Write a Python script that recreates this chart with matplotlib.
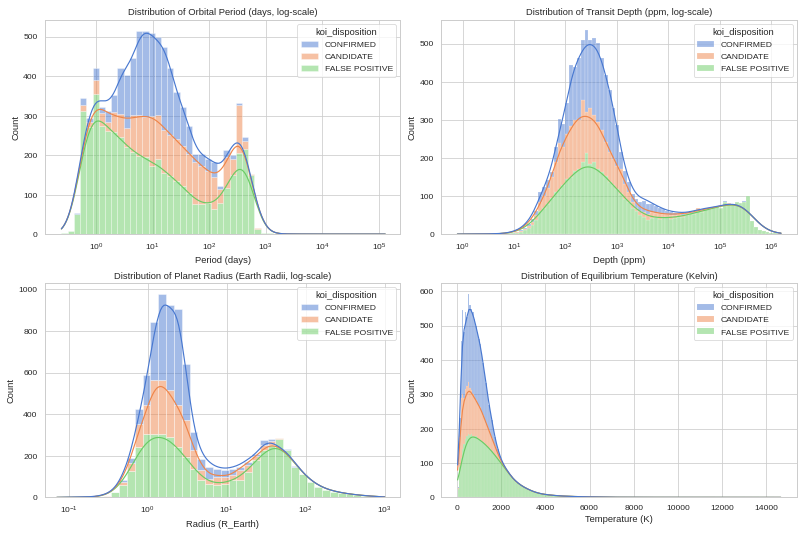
import numpy as np
import matplotlib
matplotlib.use("Agg")
import matplotlib.pyplot as plt
from matplotlib.patches import Patch
from matplotlib.ticker import MultipleLocator
import seaborn as sns

DISPOSITIONS = ["CONFIRMED", "CANDIDATE", "FALSE POSITIVE"]

# --- orbital period, bins in log10(days) ---
period_range = (-0.61, 5.11)
period_confirmed = [0, 0, 1, 17, 8, 30, 14, 27, 42, 115, 133, 144, 214, 218, 210, 199, 212, 170, 119, 98,
                    72, 21, 30, 29, 38, 8, 17, 10, 6, 9, 1, 0, 0, 0, 0, 0, 0, 0, 0, 0,
                    0, 0, 0, 0, 0, 0, 0, 0, 0, 0, 0, 0]
period_candidate = [0, 0, 0, 17, 13, 36, 33, 23, 52, 60, 50, 94, 102, 102, 127, 111, 107, 102, 106, 102,
                    98, 106, 97, 81, 79, 34, 77, 40, 122, 21, 2, 2, 0, 0, 0, 0, 0, 0, 0, 0,
                    0, 0, 0, 0, 0, 0, 0, 0, 0, 0, 0, 0]
period_false_pos = [3, 9, 52, 311, 272, 354, 275, 262, 258, 245, 220, 207, 199, 195, 173, 190, 156, 148, 135, 122,
                    105, 76, 76, 80, 65, 80, 118, 150, 205, 216, 150, 14, 4, 2, 1, 0, 1, 0, 1, 0,
                    0, 0, 1, 0, 0, 0, 0, 0, 0, 0, 0, 1]

# --- transit depth, bins in log10(ppm) ---
depth_range = (-0.10, 6.19)
depth_confirmed = [0, 0, 0, 0, 0, 0, 0, 0, 0, 1, 0, 0, 0, 1, 1, 1, 2, 3, 4, 7,
                   12, 25, 23, 21, 13, 39, 61, 60, 81, 159, 140, 162, 158, 216, 180, 202, 206, 189, 176, 163,
                   132, 106, 43, 33, 26, 22, 22, 24, 31, 28, 20, 20, 15, 14, 8, 8, 5, 4, 2, 2,
                   2, 2, 2, 2, 2, 1, 1, 1, 1, 1, 1, 1, 0, 0, 1, 1, 0, 0, 0, 0,
                   0, 0, 0, 0]
depth_candidate = [0, 0, 0, 0, 0, 0, 0, 0, 0, 0, 0, 0, 0, 0, 0, 1, 1, 2, 5, 8,
                   12, 25, 32, 40, 55, 80, 122, 100, 117, 135, 135, 130, 162, 107, 145, 123, 124, 110, 88, 79,
                   70, 61, 66, 40, 26, 14, 8, 10, 12, 14, 16, 10, 15, 8, 8, 10, 8, 6, 6, 5,
                   3, 3, 6, 4, 2, 2, 1, 1, 1, 1, 1, 1, 1, 1, 0, 0, 0, 0, 0, 0,
                   0, 0, 0, 0]
depth_false_pos = [1, 0, 0, 1, 0, 0, 1, 0, 1, 0, 1, 1, 2, 2, 3, 4, 7, 11, 17, 25,
                   38, 60, 68, 80, 95, 110, 118, 130, 145, 150, 165, 170, 190, 213, 185, 189, 171, 163, 154, 136,
                   128, 119, 106, 92, 84, 70, 62, 50, 45, 38, 42, 45, 40, 44, 46, 40, 42, 46, 44, 50,
                   55, 53, 62, 58, 66, 65, 70, 72, 68, 84, 80, 78, 84, 82, 85, 99, 35, 18, 12, 9,
                   6, 4, 2, 1]

# --- planet radius, bins in log10(R_Earth) ---
radius_range = (-1.15, 3.00)
radius_confirmed = [0, 1, 1, 0, 1, 1, 1, 2, 14, 25, 72, 144, 277, 414, 408, 464, 272, 88, 56, 56,
                    40, 35, 32, 16, 16, 11, 24, 13, 1, 5, 2, 1, 0, 0, 0, 0, 0, 0, 0, 0,
                    0, 0]
radius_candidate = [0, 0, 0, 1, 0, 1, 1, 1, 10, 40, 112, 139, 262, 262, 224, 200, 176, 88, 48, 27,
                    40, 32, 24, 45, 32, 21, 24, 19, 1, 3, 1, 1, 0, 0, 0, 0, 0, 0, 0, 0,
                    0, 0]
radius_false_pos = [1, 0, 1, 1, 2, 2, 4, 24, 62, 125, 243, 304, 304, 304, 291, 243, 195, 139, 83, 64,
                    59, 64, 83, 86, 123, 179, 227, 251, 283, 227, 147, 113, 75, 51, 38, 27, 22, 16, 11, 8,
                    6, 3]

# --- equilibrium temperature, linear bins in K (confirmed/candidate are empty past 46 bins) ---
temp_range = (25, 14667)
temp_confirmed = [2, 55, 165, 245, 190, 225, 200, 258, 242, 236, 238, 228, 214, 206, 196, 183, 167, 151, 129, 116,
                  95, 72, 64, 54, 35, 26, 18, 14, 8, 5, 3, 2, 1, 1, 0, 1, 0, 0, 0, 0,
                  1, 0, 0, 0, 0, 0]
temp_candidate = [3, 85, 175, 160, 135, 145, 147, 150, 136, 126, 120, 116, 105, 105, 96, 95, 87, 80, 71, 65,
                  57, 52, 44, 38, 32, 26, 21, 15, 11, 8, 5, 4, 3, 2, 2, 1, 1, 1, 0, 1,
                  0, 0, 1, 0, 0, 0]
temp_false_pos = [25, 90, 115, 140, 155, 170, 178, 185, 182, 186, 180, 176, 179, 171, 170, 167, 164, 161, 158, 151,
                  148, 144, 140, 134, 129, 124, 117, 112, 107, 100, 95, 90, 84, 78, 72, 66, 60, 55, 50, 46,
                  42, 39, 36, 34, 32, 30, 27, 25, 23, 21, 19, 17, 15, 14, 13, 12, 11, 10, 9, 9,
                  8, 8, 7, 7, 6, 6, 6, 5, 5, 5, 4, 4, 4, 4, 3, 4, 3, 3, 3, 3,
                  2, 3, 2, 2, 3, 2, 2, 2, 1, 2, 2, 1, 2, 1, 1, 2, 1, 1, 1, 1,
                  2, 1, 0, 1, 1, 0, 1, 0, 1, 1, 0, 1, 0, 0, 1, 1, 0, 1, 0, 0,
                  1, 0, 1, 0, 1, 0, 0, 1, 0, 1, 0, 0, 1, 0, 0, 1, 0, 0, 1, 0,
                  0, 1, 0, 0, 0, 1, 0, 1, 0, 0, 0, 0, 1, 0, 0, 0, 1, 0, 0, 1,
                  0, 0, 0, 0, 1, 0, 0, 0, 1, 0, 0, 0, 0, 1, 0, 0, 0, 0, 1, 0,
                  0, 0, 0, 1, 0, 0, 0, 0, 0, 0, 1, 0, 0, 0, 0, 1, 0, 0, 0, 0,
                  0, 0, 0, 1, 0, 0, 0, 0, 0, 1, 0, 0, 0, 0, 1, 0, 0, 0, 0, 0, 1]


def kde_line(centers, counts, grid):
    # gaussian kde (scott) of the binned sample, like seaborn's default
    n = counts.sum()
    w = counts / n
    mean = np.sum(w * centers)
    var = np.sum(w * (centers - mean) ** 2) * n / (n - 1)
    bw = np.sqrt(var) * n ** (-1 / 5)
    z = (grid[:, None] - centers[None, :]) / bw
    return (np.exp(-0.5 * z ** 2) * w).sum(axis=1) / (bw * np.sqrt(2 * np.pi))


def draw_panel(ax, lo, hi, series, log, palette):
    n_bins = max(len(s) for s in series)
    edges = np.linspace(lo, hi, n_bins + 1)
    centers = (edges[:-1] + edges[1:]) / 2
    binw = edges[1] - edges[0]
    grid = np.linspace(lo, hi, 200)
    to_data = (lambda v: 10.0 ** v) if log else (lambda v: v)

    left = to_data(edges[:-1])
    width = to_data(edges[1:]) - left
    p0, p1 = ax.transData.transform([(left[0], 0), (left[0] + width[0], 0)])[:, 0]
    lw = min(0.1 * abs(p1 - p0) * 72 / ax.figure.dpi, 1.0)

    bottom = np.zeros(n_bins)
    line_base = np.zeros(grid.size)
    # last hue level sits at the bottom of the stack
    for name, counts in reversed(list(zip(DISPOSITIONS, series))):
        h = np.zeros(n_bins)
        h[:len(counts)] = counts
        keep = h > 0
        ax.bar(left[keep], h[keep], width=width[keep], bottom=bottom[keep], align="edge",
               color=palette[name], alpha=0.5, edgecolor="white", linewidth=lw)
        line = line_base + kde_line(centers, h, grid) * h.sum() * binw
        ax.plot(to_data(grid), line, color=palette[name], lw=1.5, zorder=3)
        bottom += h
        line_base = line

    handles = [Patch(facecolor=palette[n], alpha=0.5, edgecolor="white", linewidth=lw) for n in DISPOSITIONS]
    ax.legend(handles, DISPOSITIONS, title="koi_disposition", loc="upper right")


def main():
    sns.set_theme(style="whitegrid")
    plt.rcParams["font.family"] = ["Liberation Sans", "DejaVu Sans"]
    muted = sns.color_palette("muted")
    palette = dict(zip(DISPOSITIONS, muted[:3]))

    fig, axes = plt.subplots(2, 2, figsize=(14.4, 9.6))
    fig.subplots_adjust(left=0.0558, right=0.9888, top=0.9628, bottom=0.0736, wspace=0.1153, hspace=0.227)

    panels = [
        (axes[0, 0], period_range, [period_confirmed, period_candidate, period_false_pos], True,
         "Distribution of Orbital Period (days, log-scale)", "Period (days)", (10 ** -0.90, 10 ** 5.38), 543),
        (axes[0, 1], depth_range, [depth_confirmed, depth_candidate, depth_false_pos], True,
         "Distribution of Transit Depth (ppm, log-scale)", "Depth (ppm)", (10 ** -0.41, 10 ** 6.50), 563),
        (axes[1, 0], radius_range, [radius_confirmed, radius_candidate, radius_false_pos], True,
         "Distribution of Planet Radius (Earth Radii, log-scale)", "Radius (R_Earth)", (10 ** -1.30, 10 ** 3.20), 1031),
        (axes[1, 1], temp_range, [temp_confirmed, temp_candidate, temp_false_pos], False,
         "Distribution of Equilibrium Temperature (Kelvin)", "Temperature (K)", (-707, 15399), 624),
    ]
    for ax, (lo, hi), series, log, title, xlabel, xlim, ytop in panels:
        if log:
            ax.set_xscale("log")
        ax.set_xlim(*xlim)
        ax.set_ylim(0, ytop)
        draw_panel(ax, lo, hi, series, log, palette)
        ax.set_xlim(*xlim)
        ax.set_ylim(0, ytop)
        ax.set_title(title)
        ax.set_xlabel(xlabel)
        ax.set_ylabel("Count")
        ax.grid(False, which="minor")

    axes[1, 1].xaxis.set_major_locator(MultipleLocator(2000))

    fig.savefig("out.png", dpi=806 / 14.4)
    plt.close(fig)


if __name__ == "__main__":
    main()
